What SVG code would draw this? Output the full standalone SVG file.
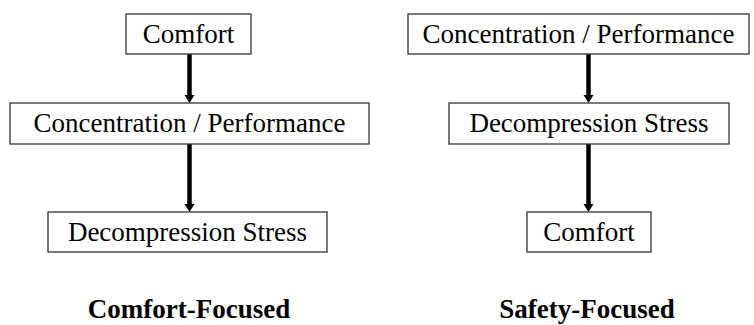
<svg xmlns="http://www.w3.org/2000/svg" width="754" height="325" viewBox="0 0 754 325">
<style>
.box{fill:#fff;stroke:#333;stroke-width:1.3}
.t{font-family:"Liberation Serif","Times New Roman",serif;font-size:27px;fill:#000;text-anchor:middle}
.h{font-family:"Liberation Serif","Times New Roman",serif;font-size:27px;font-weight:bold;fill:#000;text-anchor:middle}
.c{stroke:#000;stroke-width:4.5;fill:none}
</style>
<defs>
<marker id="ah" markerUnits="userSpaceOnUse" markerWidth="10" markerHeight="8" refX="5" refY="7" orient="auto-start-reverse" viewBox="0 0 10 8">
<path d="M0,0 L10,0 L5,7 Z" fill="#000"/>
</marker>
</defs>
<rect width="754" height="325" fill="#fff"/>
<g id="connectors">
<line class="c" x1="189.5" y1="54" x2="189.5" y2="96"/>
<path d="M184.5,95 L194.5,95 L189.5,103 Z" fill="#000"/>
<line class="c" x1="189.5" y1="144" x2="189.5" y2="205"/>
<path d="M184.5,204 L194.5,204 L189.5,212 Z" fill="#000"/>
<line class="c" x1="588.5" y1="54" x2="588.5" y2="96"/>
<path d="M583.5,95 L593.5,95 L588.5,103 Z" fill="#000"/>
<line class="c" x1="588.5" y1="144" x2="588.5" y2="205"/>
<path d="M583.5,204 L593.5,204 L588.5,212 Z" fill="#000"/>
</g>
<g id="l-comfort"><rect class="box" x="126" y="14" width="125" height="40"/><text class="t" x="188.5" y="43">Comfort</text></g>
<g id="l-concentration"><rect class="box" x="10" y="103" width="359" height="41"/><text class="t" x="189.5" y="132">Concentration / Performance</text></g>
<g id="l-decompression"><rect class="box" x="48" y="212" width="279" height="40"/><text class="t" x="187.5" y="241">Decompression Stress</text></g>
<g id="l-title"><text class="h" x="189" y="318">Comfort-Focused</text></g>
<g id="r-concentration"><rect class="box" x="408" y="14" width="341" height="40"/><text class="t" x="578.5" y="43">Concentration / Performance</text></g>
<g id="r-decompression"><rect class="box" x="449" y="103" width="280" height="41"/><text class="t" x="589" y="132">Decompression Stress</text></g>
<g id="r-comfort"><rect class="box" x="527" y="212" width="124" height="40"/><text class="t" x="589" y="241">Comfort</text></g>
<g id="r-title"><text class="h" x="587" y="318">Safety-Focused</text></g>
</svg>
